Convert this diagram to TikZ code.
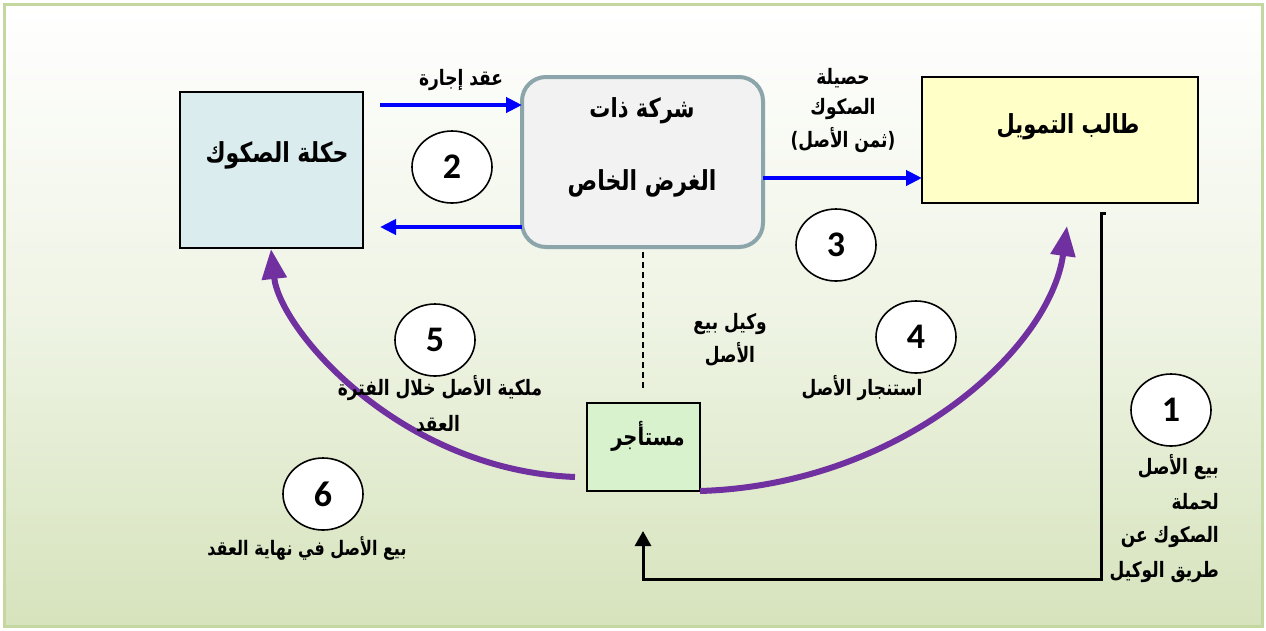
\documentclass[tikz,border=0pt]{standalone}
\usepackage{fontspec}
\usetikzlibrary{arrows.meta,shapes.geometric}
\newfontfamily\arabicfont[Script=Arabic]{DejaVu Sans}
\newfontfamily\numfont{Carlito}
\TeXXeTstate=1
\definecolor{framegreen}{RGB}{196,215,160}
\definecolor{bggreen}{RGB}{214,227,188}
\definecolor{holderblue}{RGB}{218,236,238}
\definecolor{spvgray}{RGB}{242,242,242}
\definecolor{spvedge}{RGB}{140,165,170}
\definecolor{clientyellow}{RGB}{255,255,200}
\definecolor{lesseegreen}{RGB}{215,242,204}
\definecolor{flowpurple}{RGB}{112,48,160}
\definecolor{flowblue}{RGB}{0,0,255}
% bold Arabic label, slightly stretched upright
\newcommand{\ar}[2][16pt]{\scalebox{1}[1.25]{\fontsize{#1}{#1}\arabicfont\bfseries\beginR #2\endR}}
\begin{document}
\begin{tikzpicture}[x=1pt,y=-1pt,
  box/.style={draw=black,line width=2pt,inner sep=0pt},
  numcirc/.style={draw=black,line width=1.6pt,fill=white,ellipse,minimum width=80pt,minimum height=72pt,inner sep=0pt,font=\numfont\bfseries\fontsize{36pt}{36pt}\selectfont},
  txt/.style={inner sep=0pt,anchor=center},
  rtxt/.style={inner sep=0pt,anchor=east},
  blueflow/.style={draw=flowblue,line width=4pt,-{Triangle[length=16pt,width=15pt]}},
  purpleflow/.style={draw=flowpurple,line width=6pt,-{Triangle[length=30pt,width=24pt]}},
  blackflow/.style={draw=black,line width=3pt,-{Triangle[length=15pt,width=16pt]}}]
\useasboundingbox (0,0) rectangle (1266,630);
% frame with soft gradient
\shade[top color=white,bottom color=bggreen,middle color=white!60!bggreen] (4,4) rectangle (1262,626);
\draw[framegreen,line width=3pt] (4,4) rectangle (1262,626);

% main boxes
\node[box,fill=holderblue,minimum width=183pt,minimum height=156pt] (holders) at (271.5,170) {};
\node[txt] (holderstxt) at (277,155) {\ar[22pt]{حكلة الصكوك}};

\node[draw=spvedge,line width=4pt,fill=spvgray,rounded corners=24pt,minimum width=241pt,minimum height=170pt] (spv) at (642.5,162) {};
\node[txt] (spvtxt1) at (642,111) {\ar[21pt]{شركة ذات}};
\node[txt] (spvtxt2) at (642,183) {\ar[22pt]{الغرض الخاص}};

\node[box,fill=clientyellow,minimum width=276pt,minimum height=126pt] (client) at (1060,140) {};
\node[txt] (clienttxt) at (1068,127) {\ar[21pt]{طالب التمويل}};

\node[box,fill=lesseegreen,minimum width=113pt,minimum height=88pt] (lessee) at (643.5,447) {};
\node[txt] (lesseetxt) at (648,436) {\ar[19.5pt]{مستأجر}};

% blue flows between holders, SPV and client
\coordinate (b1s) at (380,105);
\coordinate (b1e) at (522,105);
\coordinate (b2s) at (522,227);
\coordinate (b2e) at (380,227);
\coordinate (b3s) at (763,178);
\coordinate (b3e) at (922,178);
\draw[blueflow] (b1s) -- (b1e);
\draw[blueflow] (b2s) -- (b2e);
\draw[blueflow] (b3s) -- (b3e);
\node[txt] (leaselbl) at (461,80) {\ar[17pt]{عقد إجارة}};
\node[txt] (procA) at (843,78) {\ar[17pt]{حصيلة}};
\node[txt] (procB) at (843,109) {\ar[17pt]{الصكوك}};
\node[txt] (procC) at (843,140) {\ar[17pt]{(ثمن الأصل)}};

% dashed agency link
\coordinate (dtop) at (643,252);
\coordinate (dbot) at (643,388);
\draw[black,line width=1.3pt,dash pattern=on 6pt off 4pt] (dtop) -- (dbot);
\node[txt] (agent1) at (730,324) {\ar[17pt]{وكيل بيع}};
\node[txt] (agent2) at (730,354) {\ar[17pt]{الأصل}};

% purple flows from the lessee
\coordinate (pl) at (575,477);
\coordinate (pr) at (700,491);
\draw[purpleflow] (pl) .. controls (400,470) and (280,330) .. (holders.south-|271,0);
\draw[purpleflow] (pr) .. controls (900,485) and (1050,350) .. (1067,226);

% black elbow: sale through the agent
\coordinate (k0) at (1106,213);
\coordinate (k1) at (1101,213);
\coordinate (k2) at (1101,579);
\coordinate (k3) at (643,579);
\coordinate (k4) at (643,531);
\draw[blackflow] (k0) -- (k1) -- (k2) -- (k3) -- (k4);

% numbered steps
\node[numcirc] (n1) at (1171,410) {1};
\node[numcirc] (n2) at (452,167) {2};
\node[numcirc] (n3) at (836,245) {3};
\node[numcirc] (n4) at (916,337) {4};
\node[numcirc] (n5) at (435,340) {5};
\node[numcirc] (n6) at (323,494) {6};

% step labels
\node[txt] (own1) at (440,388) {\ar[17pt]{ملكية الأصل خلال الفترة}};
\node[txt] (own2) at (438,424) {\ar[17pt]{العقد}};
\node[txt] (rent) at (862,388) {\ar[17pt]{استنجار الأصل}};
\node[txt] (endsale) at (307,548) {\ar[16pt]{بيع الأصل في نهاية العقد}};
\node[rtxt] (s1a) at (1219,467) {\ar[17pt]{بيع الأصل}};
\node[rtxt] (s1b) at (1219,502) {\ar[17pt]{لحملة}};
\node[rtxt] (s1c) at (1219,537) {\ar[17pt]{الصكوك عن}};
\node[rtxt] (s1d) at (1219,572) {\ar[17pt]{طريق الوكيل}};
\end{tikzpicture}
\end{document}
